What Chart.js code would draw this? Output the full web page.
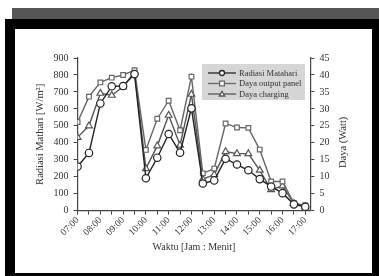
<!DOCTYPE html>
<html lang="id">
<head>
    <meta charset="UTF-8">
    <title>Radiasi Matahari dan Daya</title>
    <script src="https://cdn.jsdelivr.net/npm/chart.js"></script>
    <style>
        body { margin: 0; background: #fff; }
        #wrap { position: relative; width: 379px; height: 276px; overflow: hidden; }
        .band { position: absolute; left: 12px; top: 8px; width: 367px; height: 11px; background: #555; }
        .frame { position: absolute; left: 5px; top: 19px; width: 374px; height: 257px; background: #000; }
        .inner { position: absolute; left: 15px; top: 29px; width: 357px; height: 244px; background: #fff; }
        canvas { display: block; }
    </style>
</head>
<body>
<div id="wrap">
    <div class="band"></div>
    <div class="frame"></div>
    <div class="inner"><canvas id="chart" width="357" height="244"></canvas></div>
</div>
<script>
    // time every 30 min from 07:00 to 17:00
    const waktu = ['07:00','07:30','08:00','08:30','09:00','09:30','10:00','10:30','11:00','11:30',
                   '12:00','12:30','13:00','13:30','14:00','14:30','15:00','15:30','16:00','16:30','17:00'];
    const radiasi = [260, 340, 632, 733, 735, 805, 191, 312, 452, 342, 603, 160, 178, 306, 272, 238, 186, 142, 103, 37, 23];
    const dayaPanel = [26.1, 33.6, 37.8, 39.2, 40, 41.4, 17.9, 27.1, 32.4, 23.7, 39.5, 11, 12.4, 25.7, 24.5, 24.4, 18, 8.6, 8.6, 2.2, 1.5];
    const dayaCharging = [21.6, 25, 34.6, 34, 36.5, 40.9, 12.4, 19.1, 28.1, 19.3, 34.3, 9.3, 10.6, 17.4, 16.8, 16.8, 11.9, 6.2, 7.3, 2.1, 1.1];

    const serif = "'Liberation Serif', 'DejaVu Serif', serif";
    const toXY = arr => arr.map((v, i) => ({ x: i, y: v }));

    const series = [
        { label: 'Radiasi Matahari', data: radiasi, axis: 'y', color: '#222', style: 'circle', r: 3.7 },
        { label: 'Daya output panel', data: dayaPanel, axis: 'y1', color: '#666', style: 'rect', r: 3.3 },
        { label: 'Daya charging', data: dayaCharging, axis: 'y1', color: '#555', style: 'triangle', r: 3.9 }
    ];

    // legend box inside the plot + right axis title read bottom-to-top
    const extras = {
        id: 'extras',
        afterDatasetsDraw(chart) {
            const ctx = chart.ctx;
            const x0 = 187, y0 = 35, w = 103, h = 36;
            ctx.save();
            ctx.fillStyle = '#d6d6d6';
            ctx.fillRect(x0, y0, w, h);
            ctx.font = '8.5px ' + serif;
            ctx.textBaseline = 'middle';
            series.forEach((s, i) => {
                const y = y0 + 9 + i * 10.5;
                ctx.strokeStyle = s.color;
                ctx.lineWidth = 1.3;
                ctx.beginPath();
                ctx.moveTo(x0 + 6, y);
                ctx.lineTo(x0 + 34, y);
                ctx.stroke();
                const cx = x0 + 20;
                ctx.fillStyle = '#fff';
                ctx.beginPath();
                if (s.style === 'circle') ctx.arc(cx, y, 2.5, 0, Math.PI * 2);
                else if (s.style === 'rect') ctx.rect(cx - 2.4, y - 2.4, 4.8, 4.8);
                else { ctx.moveTo(cx, y - 2.6); ctx.lineTo(cx + 2.7, y + 2); ctx.lineTo(cx - 2.7, y + 2); ctx.closePath(); }
                ctx.fill();
                ctx.stroke();
                ctx.fillStyle = '#333';
                ctx.fillText(s.label, x0 + 37, y + 0.5);
            });

            const area = chart.chartArea;
            ctx.translate(328, (area.top + area.bottom) / 2 + 8);
            ctx.rotate(-Math.PI / 2);
            ctx.textAlign = 'center';
            ctx.font = '10.5px ' + serif;
            ctx.fillStyle = '#333';
            ctx.fillText('Daya (Watt)', 0, 0);
            ctx.restore();
        }
    };

    new Chart(document.getElementById('chart'), {
        type: 'line',
        data: {
            datasets: series.map(s => ({
                label: s.label,
                data: toXY(s.data),
                yAxisID: s.axis,
                borderColor: s.color,
                borderWidth: 1.4,
                pointStyle: s.style,
                pointRadius: s.r,
                pointBackgroundColor: '#fff',
                pointBorderColor: s.color,
                pointBorderWidth: 1.2,
                tension: 0
            }))
        },
        options: {
            responsive: false,
            animation: false,
            layout: { padding: { left: 15, right: 17, top: 29, bottom: 16 } },
            plugins: { legend: { display: false }, tooltip: { enabled: false } },
            scales: {
                x: {
                    type: 'linear',
                    min: 0,
                    max: 20.45,
                    afterBuildTicks: s => { s.ticks = waktu.map((_, i) => ({ value: i })); },
                    ticks: {
                        autoSkip: false,
                        maxRotation: 45,
                        minRotation: 45,
                        padding: 0,
                        color: '#333',
                        font: { family: serif, size: 9.5 },
                        callback: v => (v % 2 === 0 ? waktu[v] : '')
                    },
                    grid: { drawOnChartArea: false, drawTicks: true, tickLength: 4, color: '#444' },
                    border: { color: '#444', width: 1.2 },
                    title: { display: true, text: 'Waktu [Jam : Menit]', color: '#333', font: { family: serif, size: 10 }, padding: { top: 3 } }
                },
                y: {
                    position: 'left',
                    min: 0,
                    max: 900,
                    ticks: { stepSize: 100, color: '#333', padding: 5, font: { family: serif, size: 10 } },
                    grid: { drawOnChartArea: false, tickLength: 4, color: '#444' },
                    border: { color: '#444', width: 1.2 },
                    title: { display: true, text: 'Radiasi Mathari [W/m²]', color: '#333', font: { family: serif, size: 10.5 }, padding: { bottom: 2 } }
                },
                y1: {
                    position: 'right',
                    min: 0,
                    max: 45,
                    ticks: { stepSize: 5, color: '#333', padding: 5, font: { family: serif, size: 10 } },
                    grid: { drawOnChartArea: false, tickLength: 4, color: '#444' },
                    border: { color: '#444', width: 1.2 },
                    title: { display: true, text: 'Daya (Watt)', color: 'rgba(0,0,0,0)', font: { family: serif, size: 10.5 }, padding: { top: 4 } }
                }
            }
        },
        plugins: [extras]
    });
</script>
</body>
</html>
